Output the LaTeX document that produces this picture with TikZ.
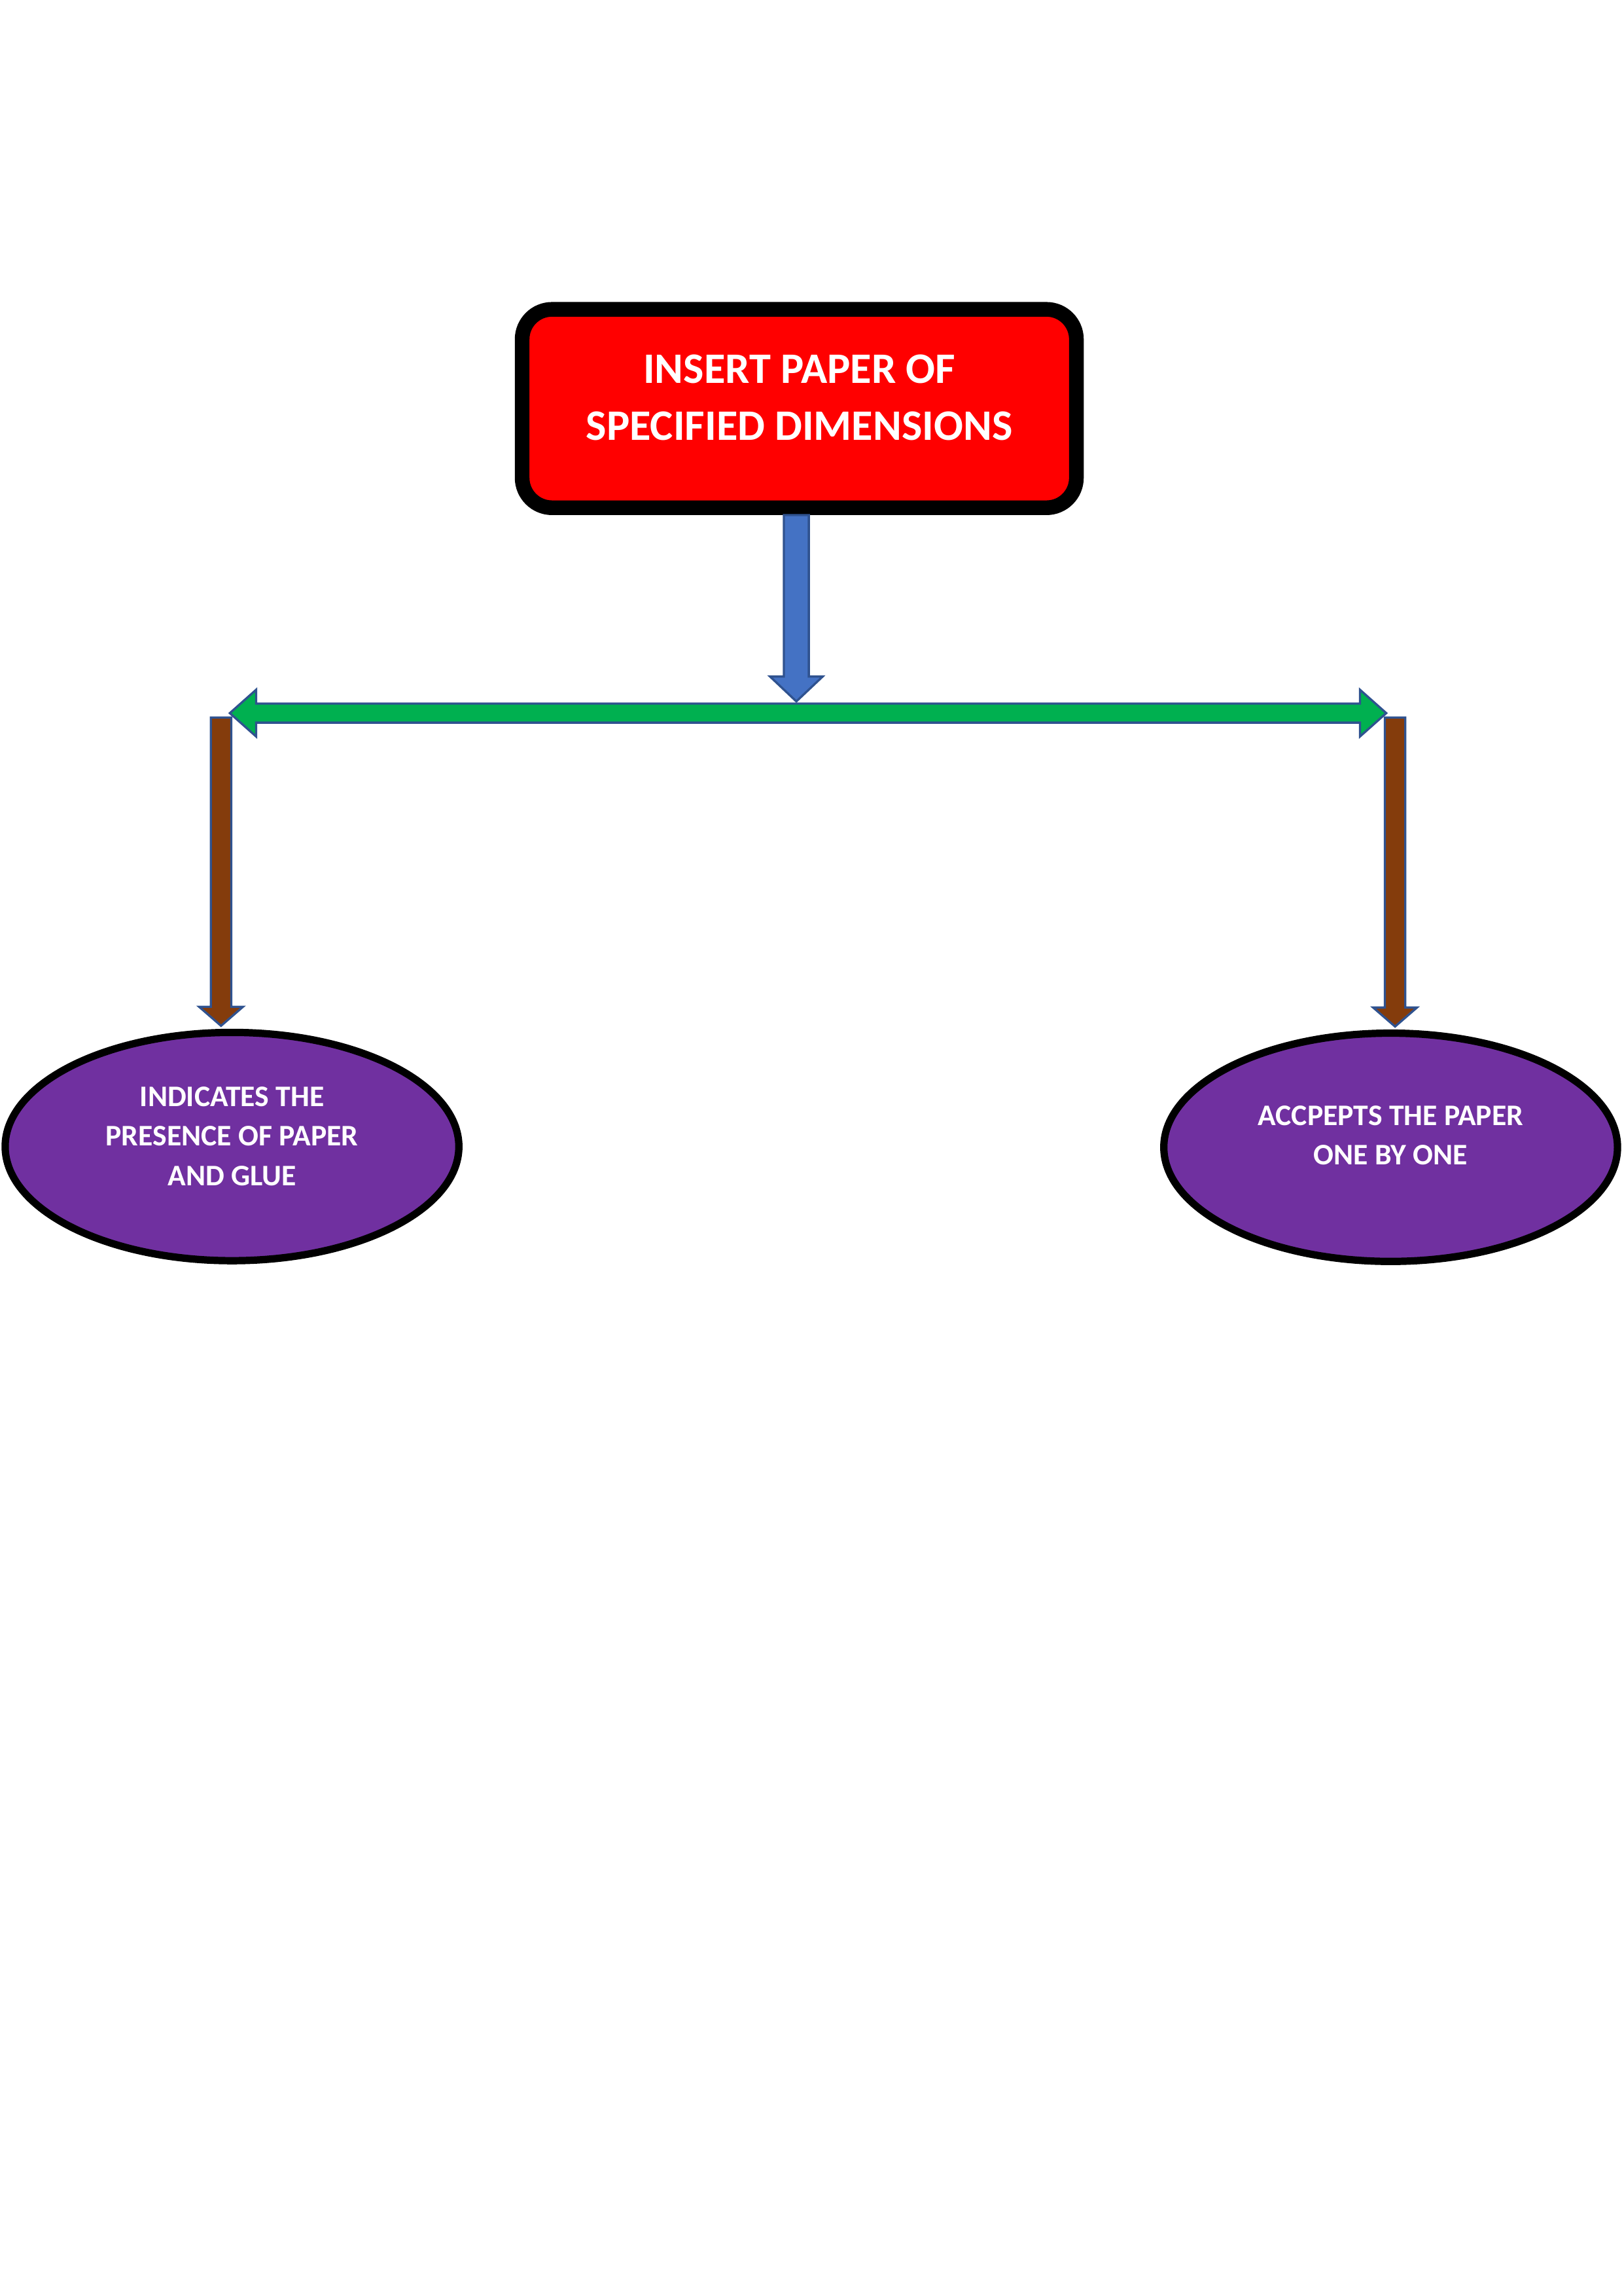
\documentclass[tikz,border=0pt]{standalone}
\usepackage{fontspec}
\setmainfont{Carlito}
\usetikzlibrary{calc,shapes.geometric}

\definecolor{boxred}{HTML}{FF0000}
\definecolor{edgeblue}{HTML}{2F528F}
\definecolor{arrowblue}{HTML}{4472C4}
\definecolor{busgreen}{HTML}{00B050}
\definecolor{dropbrown}{HTML}{843C0C}
\definecolor{ovalpurple}{HTML}{7030A0}

\begin{document}
\begin{tikzpicture}[x=0.5388pt, y=-0.5388pt,
  blockline/.style={draw=edgeblue, line width=0.8pt, line join=miter},
  titlebox/.style={rectangle, draw=black, fill=boxred, line width=5.4pt,
    rounded corners=11pt, minimum width=204pt, minimum height=73pt},
  oval/.style={ellipse, draw=black, fill=ovalpurple, line width=2.7pt,
    minimum width=167pt, minimum height=84pt, inner sep=0pt},
  whitetext/.style={text=white, font=\bfseries, align=center, inner sep=0pt}
]
\useasboundingbox (0,0) rectangle (1109,1568);

% main box
\node[titlebox] (box) at (546,279) {};
\node[whitetext, font=\fontsize{16}{21}\selectfont\bfseries] (boxText)
  at ($(box)+(0,-7.5)$) {INSERT PAPER OF\\SPECIFIED DIMENSIONS};

% the two outcome ovals
\node[oval] (leftOval) at (158.5,783) {};
\node[whitetext, font=\fontsize{11}{14.5}\selectfont\bfseries] (leftText)
  at ($(leftOval)+(0,-7)$) {INDICATES THE\\PRESENCE OF PAPER\\AND GLUE};
\node[oval] (rightOval) at (950,783.5) {};
\node[whitetext, font=\fontsize{11}{14.5}\selectfont\bfseries] (rightText)
  at ($(rightOval)+(0,-8)$) {ACCPEPTS THE PAPER\\ONE BY ONE};

% junction points on the horizontal bus
\coordinate (busMid) at (544,487);
\coordinate (busL) at (157,487);
\coordinate (busR) at (947,487);
\coordinate (dropL) at (151,490);
\coordinate (dropR) at (953,490);
\coordinate (tipL) at ($(leftOval.north)+(-7.5,-2)$);
\coordinate (tipR) at ($(rightOval.north)+(3,-2)$);

% brown drops to the ovals
\draw[blockline, fill=dropbrown]
  ($(dropL)+(-7,0)$) -- ($(dropL)+(7,0)$) -- ($(tipL)+(7,-13)$) -- ($(tipL)+(15,-13)$)
  -- (tipL) -- ($(tipL)+(-15,-13)$) -- ($(tipL)+(-7,-13)$) -- cycle;
\draw[blockline, fill=dropbrown]
  ($(dropR)+(-7,0)$) -- ($(dropR)+(7,0)$) -- ($(tipR)+(7,-13)$) -- ($(tipR)+(15,-13)$)
  -- (tipR) -- ($(tipR)+(-15,-13)$) -- ($(tipR)+(-7,-13)$) -- cycle;

% green double-headed bus
\draw[blockline, fill=busgreen]
  (busL) -- ($(busL)+(18,-16)$) -- ($(busL)+(18,-6.5)$) -- ($(busR)+(-18,-6.5)$)
  -- ($(busR)+(-18,-16)$) -- (busR) -- ($(busR)+(-18,16)$) -- ($(busR)+(-18,6.5)$)
  -- ($(busL)+(18,6.5)$) -- ($(busL)+(18,16)$) -- cycle;

% blue arrow from the box down to the bus
\coordinate (blueTop) at (box.south -| busMid);
\coordinate (blueTip) at ($(busMid)+(0,-8)$);
\draw[blockline, fill=arrowblue]
  ($(blueTop)+(-8.5,0)$) -- ($(blueTop)+(8.5,0)$) -- ($(blueTip)+(8.5,-17)$)
  -- ($(blueTip)+(18,-17)$) -- (blueTip) -- ($(blueTip)+(-18,-17)$)
  -- ($(blueTip)+(-8.5,-17)$) -- cycle;
\end{tikzpicture}
\end{document}
